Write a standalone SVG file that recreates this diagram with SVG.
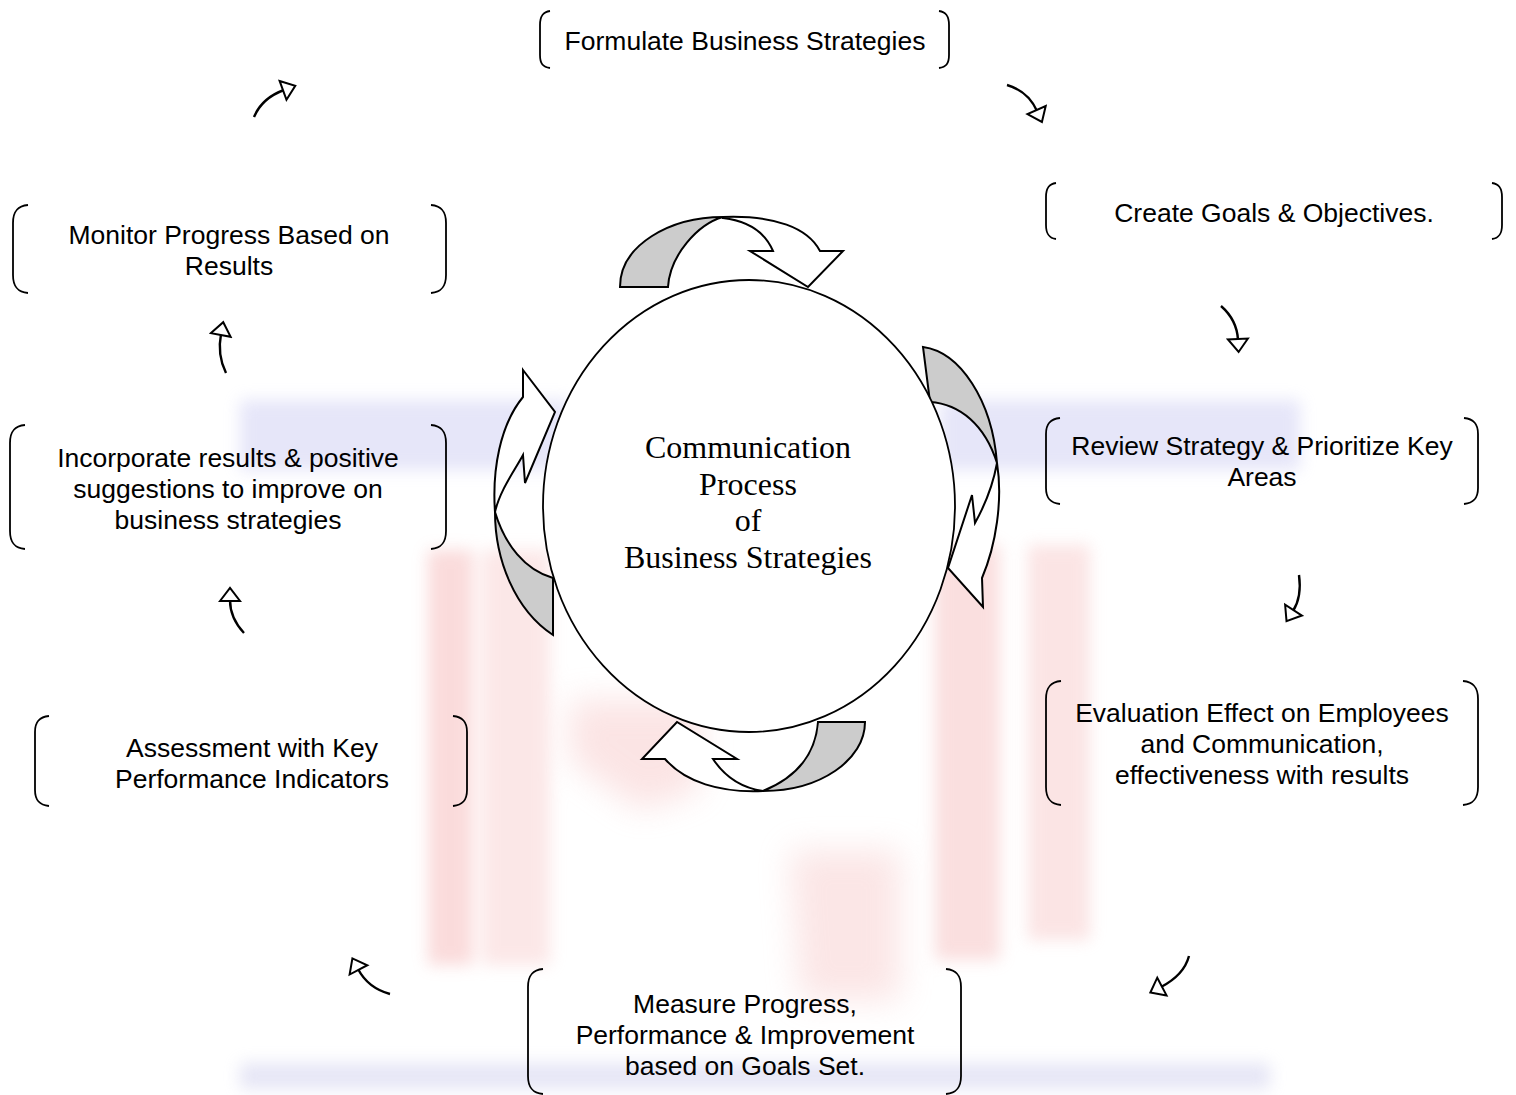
<svg xmlns="http://www.w3.org/2000/svg" width="1516" height="1095" viewBox="0 0 1516 1095">
<style>
.br{fill:none;stroke:#000;stroke-width:1.8}
.t{font-family:"Liberation Sans",Arial,sans-serif;font-size:26.5px;fill:#000;text-anchor:middle}
.ct{font-family:"Liberation Serif","Times New Roman",serif;font-size:32px;fill:#000;text-anchor:middle}
.ca{fill:none;stroke:#000;stroke-width:2.4;marker-end:url(#ah)}
.g{fill:#cccccc;stroke:#000;stroke-width:2;stroke-linejoin:miter}
.w{fill:#ffffff;stroke:#000;stroke-width:2;stroke-linejoin:miter}
</style>
<defs>
<marker id="ah" markerUnits="userSpaceOnUse" markerWidth="20" markerHeight="24" refX="1" refY="10" orient="auto" viewBox="-2 -2 20 24">
<path d="M0,0 L13,10 L0,20 Z" fill="#fff" stroke="#000" stroke-width="2"/>
</marker>
<filter id="blur" x="-10%" y="-10%" width="120%" height="120%"><feGaussianBlur stdDeviation="8"/></filter>
<filter id="blur2" x="-20%" y="-20%" width="140%" height="140%"><feGaussianBlur stdDeviation="16"/></filter>
</defs>
<rect width="1516" height="1095" fill="#fff"/>
<g id="watermark" opacity="0.35">
<g filter="url(#blur)">
<rect x="240" y="400" width="330" height="70" fill="#b8b8ee"/>
<rect x="940" y="400" width="360" height="70" fill="#b8b8ee"/>
<rect x="428" y="550" width="45" height="415" fill="#f29a9a"/>
<rect x="482" y="550" width="68" height="415" fill="#f6bcbc"/>
<rect x="935" y="545" width="65" height="415" fill="#f2a4a4"/>
<rect x="1028" y="545" width="62" height="395" fill="#f4b4b4"/>
<rect x="240" y="1063" width="1030" height="26" fill="#b8b8e4"/>
</g>
<g filter="url(#blur2)">
<path d="M570 700 L700 700 L700 790 L640 810 L570 760 Z" fill="#f4b4b4"/>
<path d="M790 850 L900 850 L900 1000 L800 1000 Z" fill="#f4b8b8"/>
</g>
</g>
<g id="connectors">
<path class="ca" d="M254 117 Q262 98 284 90"/>
<path class="ca" d="M1007 85 Q1028 91 1037 111"/>
<path class="ca" d="M1221 306 Q1237 320 1238 340"/>
<path class="ca" d="M1299 575 Q1302 597 1293 611"/>
<path class="ca" d="M1189 956 Q1184 975 1161 987"/>
<path class="ca" d="M390 994 Q368 988 358 969"/>
<path class="ca" d="M244 633 Q230 618 230 600"/>
<path class="ca" d="M226 373 Q217 355 221 334"/>
</g>
<g id="cycle-arrows">
<path class="g" d="M620 287 C620 245 670 217 723 217 C698 224 670 255 668 287 Z"/>
<path class="w" d="M723 217 C775 215 808 228 820 251 L843 251 L808 287 L750 251 L773 251 C765 232 748 221 723 218 Z"/>
<path class="g" d="M923 347 C960 352 992 400 997 463 C985 425 960 404 930 402 Z"/>
<path class="w" d="M997 463 C1003 500 996 545 982 578 L983 607 L948 568 L972 495 L975 523 C985 505 993 485 997 463 Z"/>
<path class="w" d="M523 370 L555 412 L525 483 L523 455 C515 470 500 490 495 512 C492 470 500 425 523 397 Z"/>
<path class="g" d="M495 512 C495 560 515 610 553 635 L553 578 C525 570 505 545 495 512 Z"/>
<path class="g" d="M818 722 L865 722 C865 760 820 791 763 791 C790 780 815 760 818 722 Z"/>
<path class="w" d="M665 759 L642 759 L677 722 L737 759 L713 759 C725 777 742 788 763 791 C720 793 685 782 665 759 Z"/>
</g>
<g id="center">
<ellipse cx="749" cy="506" rx="206" ry="226" fill="#fff" stroke="#000" stroke-width="1.8"/>
<text class="ct" x="748" y="458">Communication</text>
<text class="ct" x="748" y="495">Process</text>
<text class="ct" x="748" y="531">of</text>
<text class="ct" x="748" y="568">Business Strategies</text>
</g>
<g id="formulate">
<path class="br" d="M550 11 C543 12 540 16 540 25 L540 55 C540 64 543 67 550 68 M939 11 C946 12 949 16 949 25 L949 55 C949 64 946 67 939 68"/>
<text class="t" x="745" y="49.5">Formulate Business Strategies</text>
</g>
<g id="create">
<path class="br" d="M1056 183 C1049 184 1046 188 1046 197 L1046 225 C1046 234 1049 238 1056 239 M1492 183 C1499 184 1502 188 1502 197 L1502 225 C1502 234 1499 238 1492 239"/>
<text class="t" x="1274" y="221.5">Create Goals &amp; Objectives.</text>
</g>
<g id="review">
<path class="br" d="M1060 418 C1050 419 1046 424 1046 434 L1046 488 C1046 498 1050 503 1060 504 M1464 418 C1474 419 1478 424 1478 434 L1478 488 C1478 498 1474 503 1464 504"/>
<text class="t" x="1262" y="454.5">Review Strategy &amp; Prioritize Key</text>
<text class="t" x="1262" y="485.5">Areas</text>
</g>
<g id="evaluation">
<path class="br" d="M1061 681 C1050 682 1046 688 1046 699 L1046 787 C1046 798 1050 804 1061 805 M1463 681 C1474 682 1478 688 1478 699 L1478 787 C1478 798 1474 804 1463 805"/>
<text class="t" x="1262" y="721.5">Evaluation Effect on Employees</text>
<text class="t" x="1262" y="752.5">and Communication,</text>
<text class="t" x="1262" y="783.5">effectiveness with results</text>
</g>
<g id="measure">
<path class="br" d="M543 969 C532 970 528 976 528 987 L528 1076 C528 1087 532 1093 543 1094 M946 969 C957 970 961 976 961 987 L961 1076 C961 1087 957 1093 946 1094"/>
<text class="t" x="745" y="1012.5">Measure Progress,</text>
<text class="t" x="745" y="1043.5">Performance &amp; Improvement</text>
<text class="t" x="745" y="1074.5">based on Goals Set.</text>
</g>
<g id="assessment">
<path class="br" d="M49 716 C39 717 35 722 35 732 L35 790 C35 800 39 805 49 806 M453 716 C463 717 467 722 467 732 L467 790 C467 800 463 805 453 806"/>
<text class="t" x="252" y="756.5">Assessment with Key</text>
<text class="t" x="252" y="787.5">Performance Indicators</text>
</g>
<g id="incorporate">
<path class="br" d="M25 425 C14 426 10 432 10 443 L10 531 C10 542 14 548 25 549 M431 425 C442 426 446 432 446 443 L446 531 C446 542 442 548 431 549"/>
<text class="t" x="228" y="466.5">Incorporate results &amp; positive</text>
<text class="t" x="228" y="497.5">suggestions to improve on</text>
<text class="t" x="228" y="528.5">business strategies</text>
</g>
<g id="monitor">
<path class="br" d="M28 205 C17 206 13 212 13 223 L13 275 C13 286 17 292 28 293 M431 205 C442 206 446 212 446 223 L446 275 C446 286 442 292 431 293"/>
<text class="t" x="229" y="243.5">Monitor Progress Based on</text>
<text class="t" x="229" y="274.5">Results</text>
</g>
</svg>
